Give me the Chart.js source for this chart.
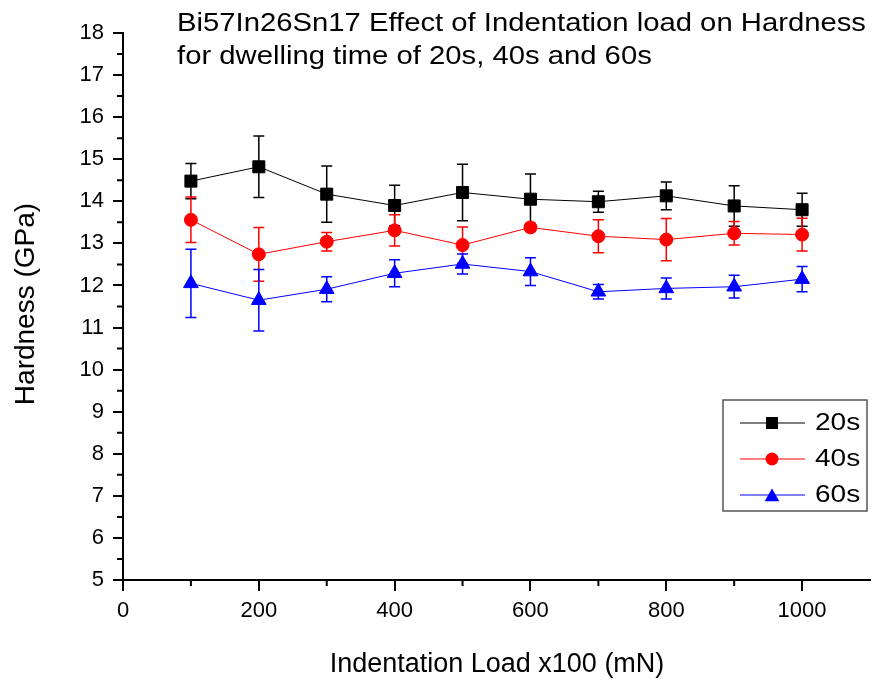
<!DOCTYPE html>
<html>
<head>
<meta charset="utf-8">
<script src="https://cdn.jsdelivr.net/npm/chart.js@4.4.0/dist/chart.umd.min.js"></script>
<style>
  body { margin: 0; background: #fff; }
  #wrap { width: 873px; height: 684px; }
</style>
</head>
<body>
<div id="wrap"><canvas id="myChart" width="873" height="684"></canvas></div>
<script>
// indentation load (x100 mN)
var loads = [100, 200, 300, 400, 500, 600, 700, 800, 900, 1000];

// hardness (GPa) and error for each dwelling time
var h20 = [14.48, 14.82, 14.17, 13.90, 14.21, 14.05, 13.99, 14.13, 13.89, 13.80];
var e20 = [0.42, 0.73, 0.67, 0.48, 0.67, 0.60, 0.25, 0.33, 0.48, 0.39];
var h40 = [13.56, 12.74, 13.04, 13.31, 12.96, 13.38, 13.17, 13.09, 13.24, 13.21];
var e40 = [0.54, 0.64, 0.22, 0.37, 0.43, 0.10, 0.39, 0.50, 0.28, 0.39];
var h60 = [12.05, 11.65, 11.91, 12.29, 12.51, 12.33, 11.85, 11.93, 11.97, 12.15];
var e60 = [0.81, 0.73, 0.30, 0.32, 0.24, 0.33, 0.17, 0.25, 0.27, 0.30];

var seriesNames = ['20s', '40s', '60s'];
var xTicks = [0, 200, 400, 600, 800, 1000];
var xMinor = [100, 300, 500, 700, 900];
var yTicks = [5, 6, 7, 8, 9, 10, 11, 12, 13, 14, 15, 16, 17, 18];
var yMinor = [5.5, 6.5, 7.5, 8.5, 9.5, 10.5, 11.5, 12.5, 13.5, 14.5, 15.5, 16.5, 17.5];

var FONT = '"Liberation Sans", Arial, sans-serif';

function pts(ys) {
  return loads.map(function (x, i) { return { x: x, y: ys[i] }; });
}

function marker(ctx, style, x, y, r) {
  ctx.beginPath();
  if (style === 'rect') {
    var s = r * Math.SQRT1_2;
    ctx.rect(x - s, y - s, 2 * s, 2 * s);
  } else if (style === 'circle') {
    ctx.arc(x, y, r, 0, Math.PI * 2);
  } else {
    ctx.moveTo(x, y - r);
    ctx.lineTo(x + r * 0.866, y + r / 2);
    ctx.lineTo(x - r * 0.866, y + r / 2);
    ctx.closePath();
  }
  ctx.fill();
}

// text a bit wider than the font, like the original picture
function wideText(ctx, txt, x, y, sx) {
  ctx.save();
  ctx.translate(x, y);
  ctx.scale(sx, 1);
  ctx.fillText(txt, 0, 0);
  ctx.restore();
}

var errorBars = {
  id: 'errorBars',
  beforeDatasetsDraw: function (chart) {
    var ctx = chart.ctx, xs = chart.scales.x, ys = chart.scales.y;
    chart.data.datasets.forEach(function (ds) {
      ctx.save();
      ctx.strokeStyle = ds.borderColor;
      ctx.lineWidth = 1.5;
      ds.data.forEach(function (p, j) {
        var x = xs.getPixelForValue(p.x);
        var t = ys.getPixelForValue(p.y + ds.errors[j]);
        var b = ys.getPixelForValue(p.y - ds.errors[j]);
        ctx.beginPath();
        ctx.moveTo(x, t); ctx.lineTo(x, b);
        ctx.moveTo(x - 5.5, t); ctx.lineTo(x + 5.5, t);
        ctx.moveTo(x - 5.5, b); ctx.lineTo(x + 5.5, b);
        ctx.stroke();
      });
      ctx.restore();
    });
  }
};

var decorations = {
  id: 'decorations',
  afterDraw: function (chart) {
    var ctx = chart.ctx, xs = chart.scales.x, ys = chart.scales.y;
    var a = chart.chartArea;
    ctx.save();
    // minor ticks
    ctx.strokeStyle = '#000';
    ctx.lineWidth = 2;
    ctx.beginPath();
    xMinor.forEach(function (v) {
      var x = xs.getPixelForValue(v);
      ctx.moveTo(x, a.bottom); ctx.lineTo(x, a.bottom + 6);
    });
    yMinor.forEach(function (v) {
      var y = ys.getPixelForValue(v);
      ctx.moveTo(a.left, y); ctx.lineTo(a.left - 6, y);
    });
    ctx.stroke();

    // title
    ctx.fillStyle = '#000';
    ctx.textAlign = 'left';
    ctx.textBaseline = 'alphabetic';
    ctx.font = '25px ' + FONT;
    wideText(ctx, 'Bi57In26Sn17 Effect of Indentation load on Hardness', 177, 31, 1.17);
    wideText(ctx, 'for dwelling time of 20s, 40s and 60s', 177, 64, 1.17);

    // axis titles
    ctx.font = '27px ' + FONT;
    ctx.textAlign = 'center';
    ctx.textBaseline = 'middle';
    ctx.fillText('Indentation Load x100 (mN)', 497, 665);
    ctx.save();
    ctx.translate(26, 304);
    ctx.rotate(-Math.PI / 2);
    ctx.font = '28px ' + FONT;
    ctx.fillText('Hardness (GPa)', 0, 0);
    ctx.restore();

    // legend
    ctx.strokeStyle = '#555';
    ctx.lineWidth = 1.5;
    ctx.strokeRect(723, 400, 144, 111);
    ctx.font = '23px ' + FONT;
    ctx.textAlign = 'left';
    ctx.textBaseline = 'middle';
    chart.data.datasets.forEach(function (ds, i) {
      var y = 423 + i * 36;
      ctx.strokeStyle = ds.borderColor;
      ctx.lineWidth = 1;
      ctx.beginPath();
      ctx.moveTo(740, y); ctx.lineTo(805, y);
      ctx.stroke();
      ctx.fillStyle = ds.backgroundColor;
      marker(ctx, ds.pointStyle, 772, ds.pointStyle === 'triangle' ? y + 2 : y, ds.pointRadius);
      ctx.fillStyle = '#000';
      wideText(ctx, ds.label, 815, y + 1, 1.22);
    });
    ctx.restore();
  }
};

function series(label, ys, errs, color, style, r) {
  return {
    label: label,
    data: pts(ys),
    errors: errs,
    borderColor: color,
    backgroundColor: color,
    borderWidth: 1,
    pointStyle: style,
    pointRadius: r,
    pointHoverRadius: r,
    pointBorderWidth: 1,
    pointBorderColor: color,
    pointBackgroundColor: color,
    tension: 0
  };
}

var ctx = document.getElementById('myChart').getContext('2d');
var chart = new Chart(ctx, {
  type: 'line',
  data: {
    datasets: [
      series(seriesNames[0], h20, e20, '#000000', 'rect', 8.5),
      series(seriesNames[1], h40, e40, '#ff0000', 'circle', 6.5),
      series(seriesNames[2], h60, e60, '#0000ff', 'triangle', 8.5)
    ]
  },
  options: {
    responsive: false,
    animation: false,
    // no auto padding for the point size, the axis runs almost to the edge
    layout: { autoPadding: false, padding: { top: 33, right: 3, left: 0, bottom: 0 } },
    plugins: {
      legend: { display: false },
      title: { display: false },
      tooltip: { enabled: false }
    },
    scales: {
      x: {
        type: 'linear',
        min: 0,
        max: 1100,
        afterFit: function (s) { s.height = 104; s.paddingRight = 0; },
        afterBuildTicks: function (s) { s.ticks = xTicks.map(function (v) { return { value: v }; }); },
        grid: { drawOnChartArea: false, tickLength: 11, tickColor: '#000', lineWidth: 2 },
        border: { display: true, color: '#000', width: 2 },
        ticks: {
          color: '#000', font: { family: FONT, size: 22 }, padding: 7, maxRotation: 0,
          callback: function (v) { return String(v); }
        }
      },
      y: {
        min: 5,
        max: 18,
        afterFit: function (s) { s.width = 123; },
        afterBuildTicks: function (s) { s.ticks = yTicks.map(function (v) { return { value: v }; }); },
        grid: { drawOnChartArea: false, tickLength: 10, tickColor: '#000', lineWidth: 2 },
        border: { display: true, color: '#000', width: 2 },
        ticks: {
          color: '#000', font: { family: FONT, size: 22 }, padding: 9,
          callback: function (v) { return String(v); }
        }
      }
    }
  },
  plugins: [errorBars, decorations]
});
</script>
</body>
</html>
